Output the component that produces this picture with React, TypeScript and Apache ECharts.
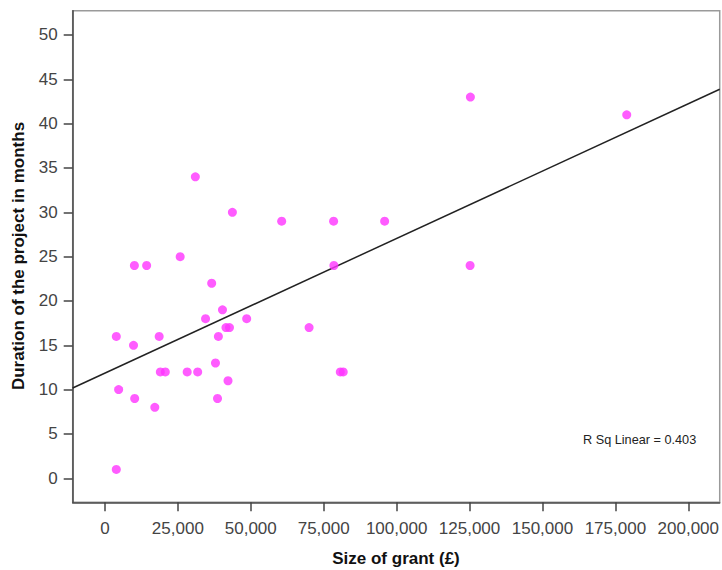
import React, { useEffect, useRef } from "react";
import * as echarts from "echarts";

const grantSize = [31000, 43700, 25800, 10100, 14300, 36600, 40300, 34500, 48600, 3900, 18600, 38900, 41500, 42700, 9800, 37900, 19000, 20700, 28200, 31800, 42200, 4700, 10200, 38600, 17100, 3900, 60600, 78400, 95900, 78500, 70000, 80700, 81700, 125300, 178900, 125200];
const duration = [34, 30, 25, 24, 24, 22, 19, 18, 18, 16, 16, 16, 17, 17, 15, 13, 12, 12, 12, 12, 11, 10, 9, 9, 8, 1, 29, 29, 29, 24, 17, 12, 12, 43, 41, 24];

const xTicks = [0, 25000, 50000, 75000, 100000, 125000, 150000, 175000, 200000];
const yTicks = [0, 5, 10, 15, 20, 25, 30, 35, 40, 45, 50];

const xRange = [-11050, 210780];
const yRange = [-2.71, 52.74];

const fitIntercept = 11.86;
const fitSlope = 0.0001519;
const rSquared = "0.403";

const xTitle = "Size of grant (£)";
const yTitle = "Duration of the project in months";

export default function App() {
  const ref = useRef<HTMLDivElement>(null);
  useEffect(() => {
    if (!ref.current) return;
    const chart = echarts.init(ref.current, null, { renderer: "svg" });
    const points = grantSize.map((g, i) => [g, duration[i]]);
    const fitLine = xRange.map((x) => [x, fitIntercept + fitSlope * x]);
    const font = "'Liberation Sans', Arial, sans-serif";
    chart.setOption({
      animation: false,
      backgroundColor: "#ffffff",
      grid: {
        left: 72.7,
        top: 10.7,
        right: 1,
        bottom: 67.7,
        show: true,
        borderColor: "#9a9a9a",
        borderWidth: 1.5,
        backgroundColor: "#ffffff",
      },
      xAxis: {
        type: "value",
        min: xRange[0],
        max: xRange[1],
        splitLine: { show: false },
        axisLine: { show: true, onZero: false, lineStyle: { color: "#4a4a4a", width: 1.5 } },
        axisTick: { show: true, customValues: xTicks, length: 9, lineStyle: { color: "#444", width: 1.5 } },
        axisLabel: {
          customValues: xTicks,
          margin: 18,
          fontSize: 17,
          fontFamily: font,
          color: "#444",
          formatter: (v: number) => v.toLocaleString("en-US"),
        },
      },
      yAxis: {
        type: "value",
        min: yRange[0],
        max: yRange[1],
        splitLine: { show: false },
        axisLine: { show: true, onZero: false, lineStyle: { color: "#4a4a4a", width: 1.5 } },
        axisTick: { show: true, customValues: yTicks, length: 9, lineStyle: { color: "#444", width: 1.5 } },
        axisLabel: {
          customValues: yTicks,
          margin: 15,
          fontSize: 17,
          fontFamily: font,
          color: "#444",
        },
      },
      graphic: [
        {
          type: "text",
          x: 396,
          y: 558,
          style: {
            text: xTitle,
            fontSize: 17,
            fontWeight: "bold",
            fontFamily: font,
            fill: "#111",
            textAlign: "center",
            textVerticalAlign: "middle",
          },
        },
        {
          type: "text",
          x: 18,
          y: 256,
          rotation: Math.PI / 2,
          style: {
            text: yTitle,
            fontSize: 17,
            fontWeight: "bold",
            fontFamily: font,
            fill: "#111",
            textAlign: "center",
            textVerticalAlign: "middle",
          },
        },
        {
          type: "text",
          x: 583,
          y: 440,
          style: {
            text: "R Sq Linear = " + rSquared,
            fontSize: 12.7,
            fontFamily: font,
            fill: "#222",
            textAlign: "left",
            textVerticalAlign: "middle",
          },
        },
      ],
      series: [
        {
          type: "line",
          data: fitLine,
          symbol: "none",
          lineStyle: { color: "#222", width: 1.5 },
          z: 3,
        },
        {
          type: "scatter",
          data: points,
          symbolSize: 9,
          itemStyle: { color: "#ff33ff" },
          z: 4,
        },
      ],
    });
    return () => chart.dispose();
  }, []);
  return (
    <div
      ref={ref}
      style={{ position: "absolute", left: 0, top: 0, width: 722, height: 570, background: "#fff" }}
    />
  );
}
